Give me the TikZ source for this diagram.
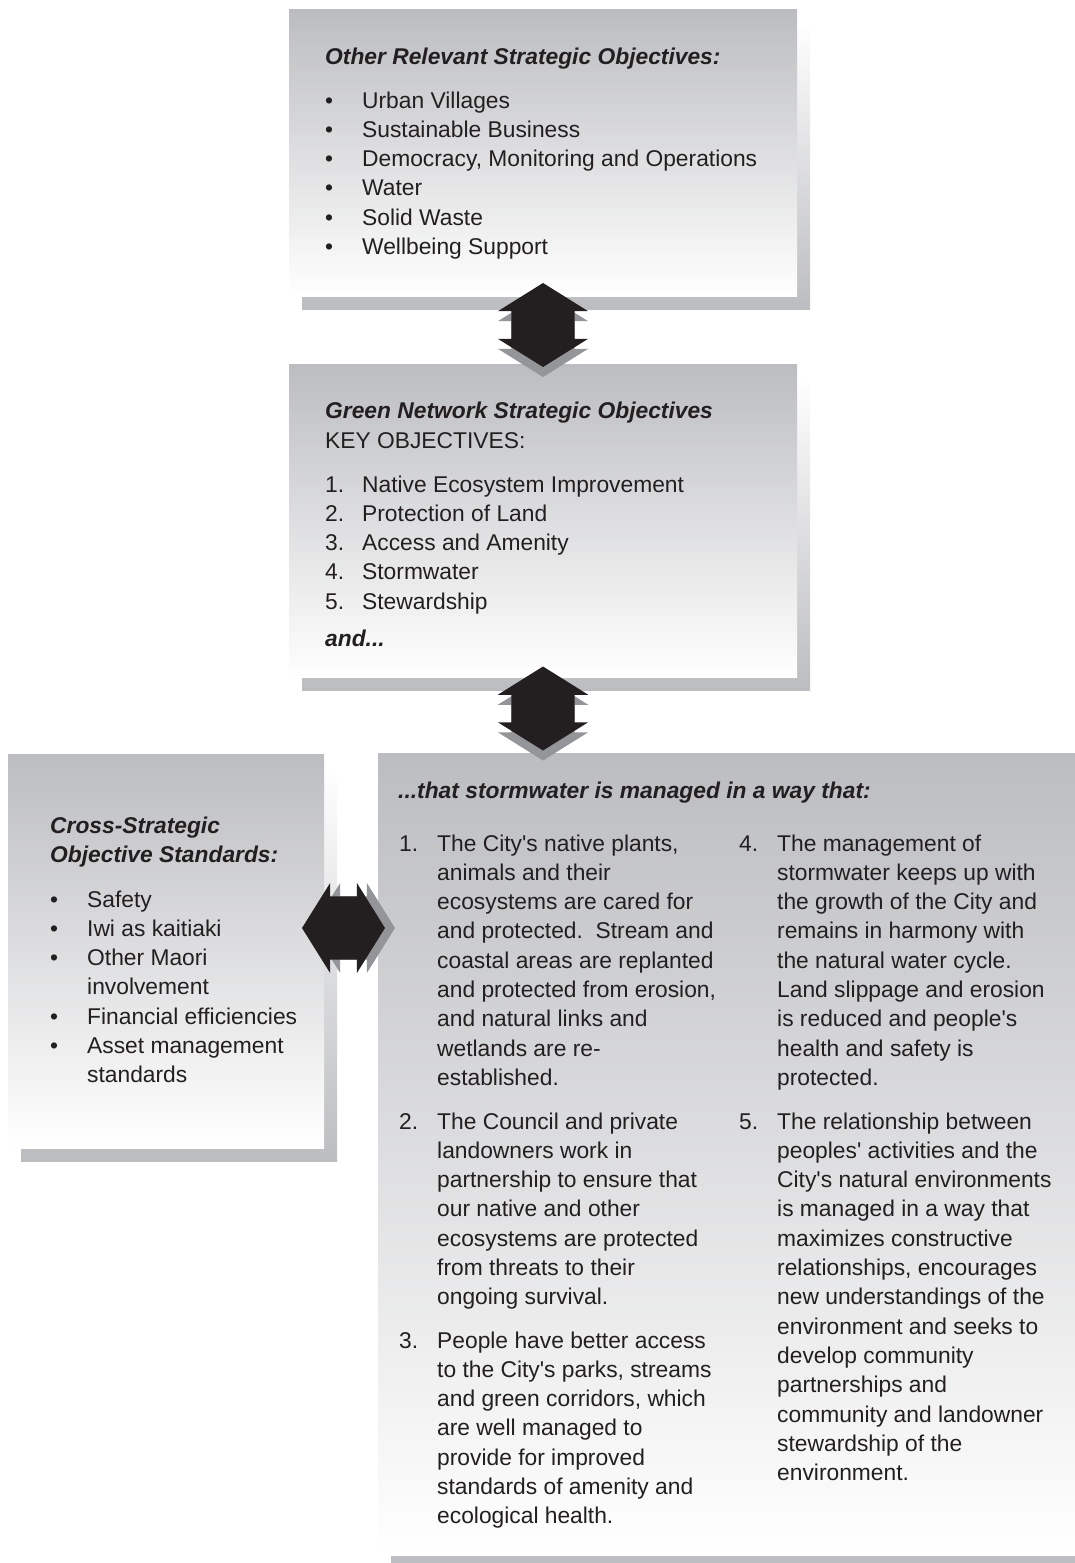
\documentclass[tikz,border=0pt]{standalone}
\usepackage{fontspec}
\setmainfont{Liberation Sans}[Ligatures=TeXOff]
\usetikzlibrary{shapes.arrows}
\definecolor{boxgray}{HTML}{BCBDC0}
\definecolor{ink}{HTML}{231F20}
\definecolor{arrowshade}{HTML}{939598}
\tikzset{
    panel/.style={draw=none, top color=boxgray, bottom color=white, inner sep=0pt,
        preaction={top color=white, bottom color=boxgray,
            transform canvas={xshift=13pt, yshift=-13pt}}},
    txt/.style={font=\fontsize{22.8}{29.3}\selectfont, text=ink, inner sep=0pt, anchor=base west},
    head/.style={txt, font=\fontsize{22.8}{29.3}\selectfont\bfseries\itshape},
    dblarrow/.style={double arrow, fill=ink, draw=none,
        minimum width=90pt, double arrow head extend=13.5pt, double arrow tip angle=116},
    uparrow/.style={dblarrow, shape border rotate=90, inner xsep=31.5pt, inner ysep=0pt,
        minimum height=84pt, preaction={fill=arrowshade, transform canvas={yshift=-10pt}}},
    sidearrow/.style={dblarrow, inner xsep=0pt, inner ysep=31.5pt,
        minimum height=83pt, preaction={fill=arrowshade, transform canvas={xshift=10pt}}}
}

\begin{document}
\begin{tikzpicture}[x=1pt, y=-1pt]
    \useasboundingbox (0,0) rectangle (1075,1563);
    \clip (0,0) rectangle (1075,1563);

    % boxes
    \node[panel, minimum width=508pt, minimum height=286pt] (others) at (543,153) {};
    \node[panel, minimum width=508pt, minimum height=313pt] (green) at (543,520.5) {};
    \node[panel, minimum width=316pt, minimum height=394pt] (cross) at (166,951) {};
    \node[panel, minimum width=712pt, minimum height=802pt] (manage) at (734,1154) {};

    % arrows
    \node[uparrow] (link1) at (543,325) {};
    \node[uparrow] (link2) at (543,708.5) {};
    \node[sidearrow] (link3) at (343.5,928) {};

    % top box
    \node[head] (othershead) at (325,64) {Other Relevant Strategic Objectives:};
    \node[txt] (otherslist) at (325,108) {\begin{tabular}[t]{@{}p{37pt}@{}l@{}}
        • & Urban Villages\\
        • & Sustainable Business\\
        • & Democracy, Monitoring and Operations\\
        • & Water\\
        • & Solid Waste\\
        • & Wellbeing Support
    \end{tabular}};

    % middle box
    \node[head] (greenhead) at (325,418) {Green Network Strategic Objectives};
    \node[txt] (keyhead) at (325,448) {KEY OBJECTIVES:};
    \node[txt] (keylist) at (325,492) {\begin{tabular}[t]{@{}p{37pt}@{}l@{}}
        1. & Native Ecosystem Improvement\\
        2. & Protection of Land\\
        3. & Access and Amenity\\
        4. & Stormwater\\
        5. & Stewardship
    \end{tabular}};
    \node[head] (andhead) at (325,646) {and...};

    % left box
    \node[txt] (crosshead) at (50,833) {\bfseries\itshape\begin{tabular}[t]{@{}l@{}}
        Cross-Strategic\\
        Objective Standards:
    \end{tabular}};
    \node[txt] (crosslist) at (50,907) {\begin{tabular}[t]{@{}p{37pt}@{}l@{}}
        • & Safety\\
        • & Iwi as kaitiaki\\
        • & Other Maori\\
          & involvement\\
        • & Financial efficiencies\\
        • & Asset management\\
          & standards
    \end{tabular}};

    % big box
    \node[head] (managehead) at (398,798) {...that stormwater is managed in a way that:};
    \node[txt] (item1) at (399,851) {\begin{tabular}[t]{@{}p{38pt}@{}l@{}}
        1. & \begin{tabular}[t]{@{}l@{}}
            The City's native plants,\\
            animals and their\\
            ecosystems are cared for\\
            and protected.\ \ Stream and\\
            coastal areas are replanted\\
            and protected from erosion,\\
            and natural links and\\
            wetlands are re-\\
            established.
        \end{tabular}
    \end{tabular}};
    \node[txt] (item2) at (399,1129) {\begin{tabular}[t]{@{}p{38pt}@{}l@{}}
        2. & \begin{tabular}[t]{@{}l@{}}
            The Council and private\\
            landowners work in\\
            partnership to ensure that\\
            our native and other\\
            ecosystems are protected\\
            from threats to their\\
            ongoing survival.
        \end{tabular}
    \end{tabular}};
    \node[txt] (item3) at (399,1348) {\begin{tabular}[t]{@{}p{38pt}@{}l@{}}
        3. & \begin{tabular}[t]{@{}l@{}}
            People have better access\\
            to the City's parks, streams\\
            and green corridors, which\\
            are well managed to\\
            provide for improved\\
            standards of amenity and\\
            ecological health.
        \end{tabular}
    \end{tabular}};
    \node[txt] (item4) at (739,851) {\begin{tabular}[t]{@{}p{38pt}@{}l@{}}
        4. & \begin{tabular}[t]{@{}l@{}}
            The management of\\
            stormwater keeps up with\\
            the growth of the City and\\
            remains in harmony with\\
            the natural water cycle.\\
            Land slippage and erosion\\
            is reduced and people's\\
            health and safety is\\
            protected.
        \end{tabular}
    \end{tabular}};
    \node[txt] (item5) at (739,1129) {\begin{tabular}[t]{@{}p{38pt}@{}l@{}}
        5. & \begin{tabular}[t]{@{}l@{}}
            The relationship between\\
            peoples' activities and the\\
            City's natural environments\\
            is managed in a way that\\
            maximizes constructive\\
            relationships, encourages\\
            new understandings of the\\
            environment and seeks to\\
            develop community\\
            partnerships and\\
            community and landowner\\
            stewardship of the\\
            environment.
        \end{tabular}
    \end{tabular}};
\end{tikzpicture}
\end{document}
